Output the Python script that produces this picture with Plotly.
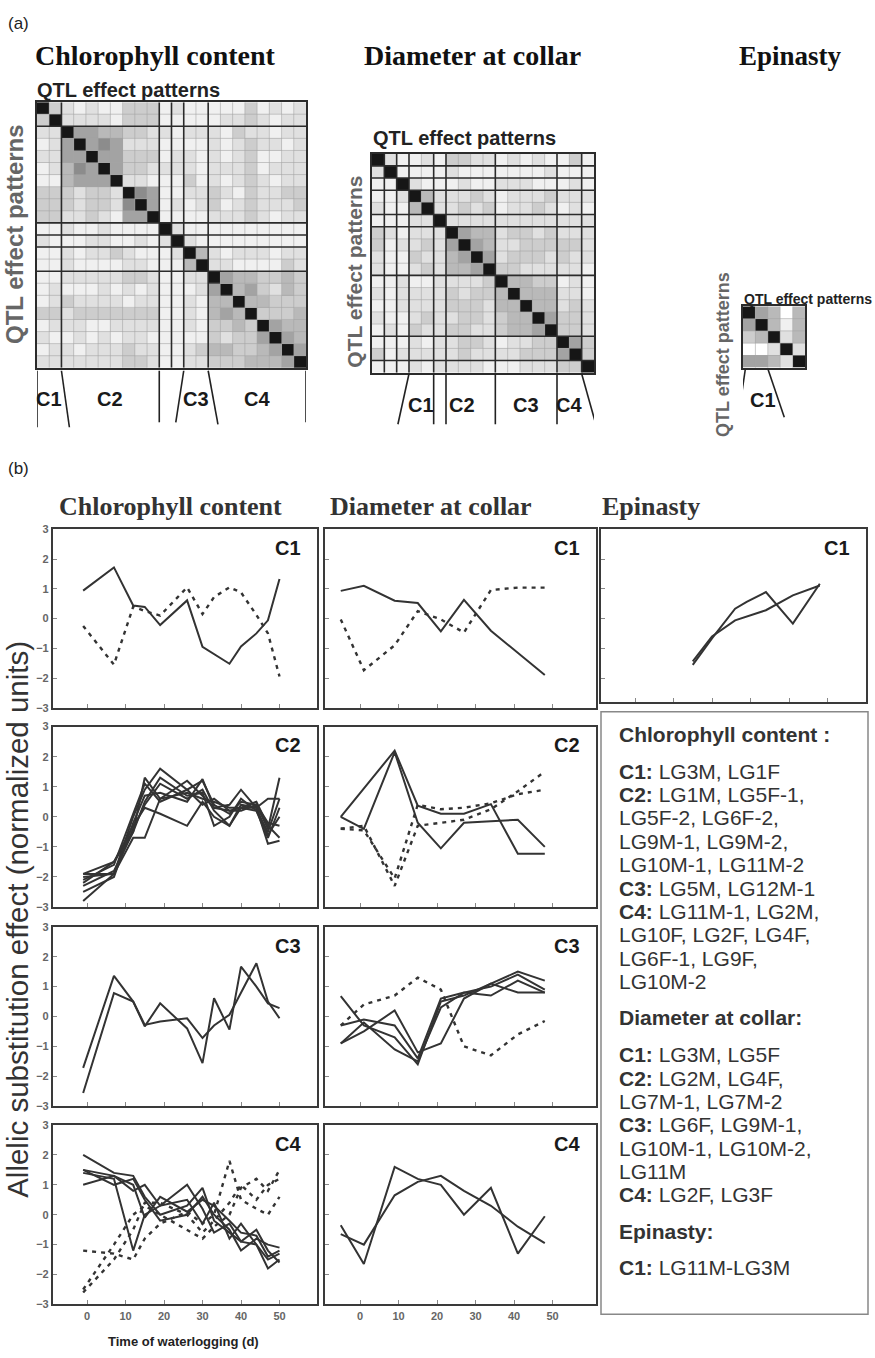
import plotly.graph_objects as go

W, H = 875, 1358
SANS = "Liberation Sans, Arial, sans-serif"
SERIF = "Liberation Serif, Times New Roman, serif"

# ---------------- data : QTL effect pattern matrices (grey level 0-9) ----------------
chl_tri = ["9", "39", "229", "1259", "22559", "124659", "1145559", "33323329",
           "333233269", "3322321559", "11211211119", "211122112129",
           "1121223211129", "11211112211149", "112222233211229",
           "1211121212111259", "12322221221121449", "332333333311214549",
           "1222112222112133439", "21121212211111323359",
           "122122232211234433459", "2222222332112233344459"]
dia_tri = ["9", "29", "119", "1129", "21149", "111229", "3212229", "31223259",
           "211322459", "2112324459", "11211222239", "212222323349",
           "1122223332449", "21123223323449", "121322332234459",
           "1112122332122339", "31222223222233359", "111212222111222339"]
epi_cells = [[9, 5, 4, 0, 4], [5, 9, 4, 1, 4], [3, 4, 9, 2, 4], [0, 0, 2, 9, 2], [5, 5, 4, 2, 9]]
chl_groups = [2, 8, 1, 1, 2, 8]
dia_groups = [1, 1, 1, 2, 1, 4, 5, 2, 1]

# ---------------- data : allelic substitution effect profiles ----------------
days_chl = [-1, 7, 12, 15, 19, 26, 30, 33, 37, 40, 44, 47, 50]
days_dia = [-5, 1, 9, 15, 21, 27, 34, 41, 48]
days_epi = [15, 20, 26, 29, 34, 41, 48]

chl_c1_solid = [[0.94, 1.72, 0.44, 0.39, -0.22, 0.61, -0.95, -1.2, -1.52, -0.94, -0.5, -0.06, 1.33]]
chl_c1_dashed = [[-0.25, -1.55, 0.4, 0.25, 0.1, 1.05, 0.15, 0.72, 1.05, 0.88, 0.12, -0.5, -1.95]]
chl_c2_solid = [
    [-1.9, -1.9, 0.0, 0.9, 1.6, 0.9, 1.2, 0.4, 0.1, 0.5, 0.4, -0.4, 1.3],
    [-2.2, -1.5, -0.5, 1.3, 0.6, 1.2, 0.7, 0.3, 0.4, 0.9, 0.3, -0.9, -0.8],
    [-2.8, -1.9, -0.4, 0.4, 1.1, 0.6, 0.9, 0.2, -0.3, 0.3, 0.2, -0.5, 0.6],
    [-2.0, -1.9, -0.7, -0.7, 0.6, 0.8, 0.6, 0.5, 0.3, 0.3, 0.5, -0.3, -0.7],
    [-1.9, -1.5, -0.3, 0.3, 0.1, -0.3, 0.5, 0.0, -0.3, 0.4, 0.3, 0.6, 0.6],
    [-2.5, -2.0, -0.2, 0.7, 0.8, 0.5, 1.25, 0.3, 0.2, 0.3, 0.3, -0.6, 0.0],
    [-2.1, -1.6, 0.1, 1.1, 0.5, 0.9, 0.4, 0.6, 0.2, 0.2, 0.4, -0.2, -0.3],
    [-2.3, -1.8, -0.5, 0.5, 1.3, 0.7, 0.8, -0.3, 0.0, 0.6, 0.2, -0.7, 0.3],
]
chl_c3_solid = [
    [-1.72, 1.36, 0.5, -0.33, 0.44, -0.4, -1.56, 0.61, -0.44, 1.67, 1.0, 0.44, 0.28],
    [-2.56, 0.78, 0.5, -0.28, -0.17, -0.06, -0.72, -0.3, 0.06, 0.8, 1.78, 0.5, -0.06],
]
chl_c4_solid = [
    [2.0, 1.4, 1.3, 0.6, 0.0, 0.3, 0.9, -0.2, -0.6, -0.9, -1.0, -1.8, -1.5],
    [1.5, 1.3, 1.0, -0.1, 0.6, 0.1, 0.5, 0.3, -0.2, -0.6, -0.7, -1.4, -1.2],
    [1.4, 1.2, -1.2, 0.0, 0.3, 1.0, 0.2, -0.6, -0.3, -0.9, -0.5, -1.2, -1.6],
    [1.0, 1.3, 0.8, 1.0, 0.3, 0.5, -0.3, 0.4, -0.8, -0.3, -1.0, -1.5, -1.3],
    [1.5, 1.0, 1.2, 0.5, -0.2, 0.0, 0.6, 0.0, -0.5, -1.2, -0.8, -1.0, -1.1],
]
chl_c4_dashed = [
    [-1.2, -1.3, -1.5, -0.8, -0.3, 0.1, -0.3, 0.0, 1.8, 0.5, 0.2, 0.0, 0.6],
    [-2.5, -1.0, 0.0, 0.3, 0.0, -0.5, -0.8, -0.4, 0.0, 0.9, 1.2, 0.8, 1.5],
    [-2.6, -1.5, -0.5, 0.4, 0.4, 0.0, -0.6, -0.2, 0.4, 1.0, 0.5, 1.0, 1.2],
]
dia_c1_solid = [[0.93, 1.1, 0.6, 0.52, -0.43, 0.63, -0.41, -1.15, -1.9]]
dia_c1_dashed = [[-0.03, -1.74, -0.9, 0.25, -0.03, -0.47, 0.96, 1.04, 1.04]]
dia_c2_solid = [
    [0.0, 0.94, 2.2, 0.37, 0.1, 0.1, 0.42, -1.23, -1.23],
    [0.0, -0.4, 2.15, -0.2, -1.05, -0.2, -0.15, -0.1, -1.0],
]
dia_c2_dashed = [
    [-0.4, -0.3, -2.3, -0.3, -0.2, -0.1, 0.25, 0.85, 1.5],
    [-0.4, -0.45, -2.05, 0.4, 0.25, 0.3, 0.45, 0.75, 0.9],
]
dia_c3_solid = [
    [0.68, -0.3, -0.7, -1.6, 0.5, 0.7, 1.1, 1.5, 1.2],
    [-0.3, -0.1, -0.3, -1.4, 0.6, 0.8, 0.7, 1.2, 0.8],
    [-0.9, -0.5, 0.2, -1.2, -0.9, 0.6, 1.1, 0.8, 0.8],
    [-0.9, -0.2, -1.1, -1.5, 0.3, 0.8, 1.0, 1.4, 0.9],
]
dia_c3_dashed = [[-0.3, 0.4, 0.7, 1.3, 0.9, -1.0, -1.3, -0.6, -0.15]]
dia_c4_solid = [
    [-0.35, -1.65, 1.6, 1.2, 1.0, 0.0, 0.9, -1.3, -0.05],
    [-0.65, -1.0, 0.65, 1.1, 1.3, 0.8, 0.3, -0.4, -0.95],
]
epi_c1_solid = [
    [-1.56, -0.67, 0.33, 0.56, 0.89, -0.17, 1.17],
    [-1.44, -0.6, -0.06, 0.07, 0.28, 0.78, 1.11],
]

# legend text blocks: (header, lines, header y in px)
legend_blocks = [
    ("Chlorophyll content :",
     ["<b>C1:</b> LG3M, LG1F", "<b>C2:</b> LG1M, LG5F-1,", "LG5F-2, LG6F-2,",
      "LG9M-1, LG9M-2,", "LG10M-1, LG11M-2", "<b>C3:</b> LG5M, LG12M-1",
      "<b>C4:</b> LG11M-1, LG2M,", "LG10F, LG2F, LG4F,", "LG6F-1, LG9F,", "LG10M-2"], 735),
    ("Diameter at collar:",
     ["<b>C1:</b> LG3M, LG5F", "<b>C2:</b> LG2M, LG4F,", "LG7M-1, LG7M-2",
      "<b>C3:</b> LG6F, LG9M-1,", "LG10M-1, LG10M-2,", "LG11M",
      "<b>C4:</b> LG2F, LG3F"], 1021),
    ("Epinasty:", ["<b>C1:</b> LG11M-LG3M"], 1236),
]

# ---------------- helpers ----------------
fig = go.Figure()
layout = {}
shapes = []
annotations = []
counter = [0]


def px_x(p):
    return p / W


def px_y(p):
    return 1 - p / H


def new_axes(x0, x1, y0, y1, xopts, yopts):
    counter[0] += 1
    k = counter[0]
    xn = "xaxis" if k == 1 else f"xaxis{k}"
    yn = "yaxis" if k == 1 else f"yaxis{k}"
    xr = "x" if k == 1 else f"x{k}"
    yr = "y" if k == 1 else f"y{k}"
    layout[xn] = dict(domain=[px_x(x0), px_x(x1)], anchor=yr, **xopts)
    layout[yn] = dict(domain=[px_y(y1), px_y(y0)], anchor=xr, **yopts)
    return xr, yr


def text(t, x, y, size, color="#222", family=SANS, weight="normal", angle=0,
         xanchor="center", xref="paper", yref="paper"):
    annotations.append(dict(text=t, x=x, y=y, xref=xref, yref=yref, showarrow=False,
                            xanchor=xanchor, yanchor="middle", textangle=angle,
                            font=dict(size=size, color=color, family=family, weight=weight)))


def full_matrix(tri):
    n = len(tri)
    m = [[0] * n for _ in range(n)]
    for i, row in enumerate(tri):
        for j, ch in enumerate(row):
            m[i][j] = int(ch)
            m[j][i] = int(ch)
    return m


greys = [[0.0, "#ffffff"], [0.111, "#f0f0f0"], [0.222, "#e0e0e0"], [0.333, "#cdcdcd"],
         [0.444, "#b9b9b9"], [0.556, "#a3a3a3"], [0.667, "#8c8c8c"], [0.778, "#6a6a6a"],
         [0.889, "#444444"], [1.0, "#161616"]]


def add_heat(m, groups, box):
    n = len(m)
    x0, x1, y0, y1 = box
    common = dict(showgrid=False, zeroline=False, showticklabels=False, ticks="",
                  showline=True, mirror=True, linecolor="#2b2b2b", linewidth=1.6)
    xr, yr = new_axes(x0, x1, y0, y1, dict(range=[-0.5, n - 0.5], **common),
                      dict(range=[n - 0.5, -0.5], **common))
    fig.add_trace(go.Heatmap(z=m, x=list(range(n)), y=list(range(n)), colorscale=greys,
                             zmin=0, zmax=9, showscale=False, hoverinfo="skip",
                             xaxis=xr, yaxis=yr))
    bounds = set()
    c = 0
    for g in groups[:-1]:
        c += g
        bounds.add(c)
    for heavy in (False, True):
        for b in range(1, n):
            if (b in bounds) != heavy:
                continue
            col = "#2b2b2b" if heavy else "#a5a5a5"
            w = 1.6 if heavy else 0.6
            shapes.append(dict(type="line", xref=xr, yref=yr, x0=b - 0.5, x1=b - 0.5,
                               y0=-0.5, y1=n - 0.5, line=dict(color=col, width=w)))
            shapes.append(dict(type="line", xref=xr, yref=yr, y0=b - 0.5, y1=b - 0.5,
                               x0=-0.5, x1=n - 0.5, line=dict(color=col, width=w)))
    return xr


def brackets(xr, top, items, labels, label_y):
    for b, off, bottom in items:
        shapes.append(dict(type="line", xref=xr, yref="paper", x0=b - 0.5, x1=b - 0.5 + off,
                           y0=px_y(top), y1=px_y(bottom), line=dict(color="#222", width=1.6)))
    for c, t in labels:
        text(t, c - 0.5, px_y(label_y), 20, "#1a1a1a", SANS, "bold", xref=xr)


# ---------------- part (a) ----------------
text("(a)", px_x(6), px_y(18), 17, "#222", SANS, xanchor="left")
text("Chlorophyll content", px_x(155), px_y(50), 28, "#111", SERIF, "bold")
text("Diameter at collar", px_x(472), px_y(50), 28, "#111", SERIF, "bold")
text("Epinasty", px_x(790), px_y(50), 27, "#111", SERIF, "bold")

hx1 = add_heat(full_matrix(chl_tri), chl_groups, (37, 306, 97, 365))
text("QTL effect patterns", px_x(35), px_y(85), 20, "#222", SANS, "bold", xanchor="left")
text("QTL effect patterns", px_x(15), px_y(230), 24, "#666", SANS, "bold", angle=-90)
brackets(hx1, 368, [(0, 0, 425), (2, 0.65, 425), (10, 0, 420), (12, -0.65, 420),
                    (14, 0.8, 422), (22, 0, 420)],
         [(1, "C1"), (6, "C2"), (13, "C3"), (18, "C4")], 396)

hx2 = add_heat(full_matrix(dia_tri), dia_groups, (372, 594, 149, 370))
text("QTL effect patterns", px_x(371), px_y(133), 20, "#222", SANS, "bold", xanchor="left")
text("QTL effect patterns", px_x(355), px_y(268), 21, "#666", SANS, "bold", angle=-90)
brackets(hx2, 371, [(3, -0.9, 422), (5, 0, 422), (6, 0, 422), (10, 0, 422),
                    (15, 0, 422), (17, 1.15, 422)],
         [(4, "C1"), (7.3, "C2"), (12.5, "C3"), (16, "C4")], 403)

hx3 = add_heat(epi_cells, [5], (743, 805, 303, 365))
text("QTL effect patterns", px_x(742), px_y(296), 14, "#222", SANS, "bold", xanchor="left")
text("QTL effect patterns", px_x(723), px_y(352), 18, "#666", SANS, "bold", angle=-90)
brackets(hx3, 367, [(0.18, -0.56, 415), (2.03, 1.3, 415)], [(1.6, "C1")], 398)

# ---------------- part (b) ----------------
text("(b)", px_x(6), px_y(467), 17, "#222", SANS, xanchor="left")
text("Chlorophyll content", px_x(170), px_y(505), 26, "#333", SERIF, "bold")
text("Diameter at collar", px_x(431), px_y(505), 26, "#333", SERIF, "bold")
text("Epinasty", px_x(651), px_y(505), 26, "#333", SERIF, "bold")

cols = {"chl": (53, 317, [-8.83, 59.74]), "dia": (325, 596, [-9.09, 61.3]),
        "epi": (601, 866, [-8.83, 60.0])}
rows = [(528, 708), (727, 909), (929, 1110), (1129, 1310)]

panels = [
    ("chl", 0, days_chl, chl_c1_solid, chl_c1_dashed, "C1"),
    ("chl", 1, days_chl, chl_c2_solid, [], "C2"),
    ("chl", 2, days_chl, chl_c3_solid, [], "C3"),
    ("chl", 3, days_chl, chl_c4_solid, chl_c4_dashed, "C4"),
    ("dia", 0, days_dia, dia_c1_solid, dia_c1_dashed, "C1"),
    ("dia", 1, days_dia, dia_c2_solid, dia_c2_dashed, "C2"),
    ("dia", 2, days_dia, dia_c3_solid, dia_c3_dashed, "C3"),
    ("dia", 3, days_dia, dia_c4_solid, [], "C4"),
    ("epi", 0, days_epi, epi_c1_solid, [], "C1"),
]

tickfont = dict(size=11, color="#666", family=SANS, weight="bold")
for col, r, days, solid, dashed, lab in panels:
    x0, x1, xrange_ = cols[col]
    y0, y1 = rows[r]
    yrange = [-3, 3]
    if col == "epi":
        y1 = 702
        yrange = [-2.8, 3]
    frame = dict(showline=True, mirror=True, linecolor="#3a3a3a", linewidth=2.2,
                 showgrid=False, zeroline=False, ticks="inside", ticklen=4,
                 tickcolor="#888", tickwidth=1)
    xr, yr = new_axes(
        x0, x1, y0, y1,
        dict(range=xrange_, tickvals=[0, 10, 20, 30, 40, 50],
             showticklabels=(r == 3), tickfont=tickfont, **frame),
        dict(range=yrange, tickvals=[-3, -2, -1, 0, 1, 2, 3],
             showticklabels=(col == "chl"), tickfont=tickfont, **frame))
    for s in solid:
        fig.add_trace(go.Scatter(x=days, y=s, mode="lines", xaxis=xr, yaxis=yr,
                                 line=dict(color="#333", width=2), hoverinfo="skip"))
    for s in dashed:
        fig.add_trace(go.Scatter(x=days, y=s, mode="lines", xaxis=xr, yaxis=yr,
                                 line=dict(color="#333", width=2.4, dash="4px,5px"),
                                 hoverinfo="skip"))
    text(lab, px_x(x1 - 29), px_y(y0 + 19), 20, "#1a1a1a", SANS, "bold")

text("Allelic substitution effect (normalized units)", px_x(18), px_y(922), 29.5,
     "#333", SANS, angle=-90)
text("Time of waterlogging (d)", px_x(183), px_y(1347), 13, "#222", SANS, "bold")

# legend box
shapes.append(dict(type="rect", xref="paper", yref="paper", x0=px_x(601), x1=px_x(868),
                   y0=px_y(1320), y1=px_y(712), line=dict(color="#888", width=1.5)))
LINE_STEP = 23.6
for head, lines, y_head in legend_blocks:
    text(f"<b>{head}</b>", px_x(617), px_y(y_head), 21, "#333", SANS, xanchor="left")
    for i, t in enumerate(lines):
        text(t, px_x(617), px_y(y_head + 37 + LINE_STEP * i), 21, "#333", SANS, xanchor="left")

fig.update_layout(width=W, height=H, margin=dict(l=0, r=0, t=0, b=0),
                  paper_bgcolor="white", plot_bgcolor="white", showlegend=False,
                  shapes=shapes, annotations=annotations, **layout)
fig.write_html("out.html", config={"displayModeBar": False},
               post_script="document.body.style.margin='0px';")
